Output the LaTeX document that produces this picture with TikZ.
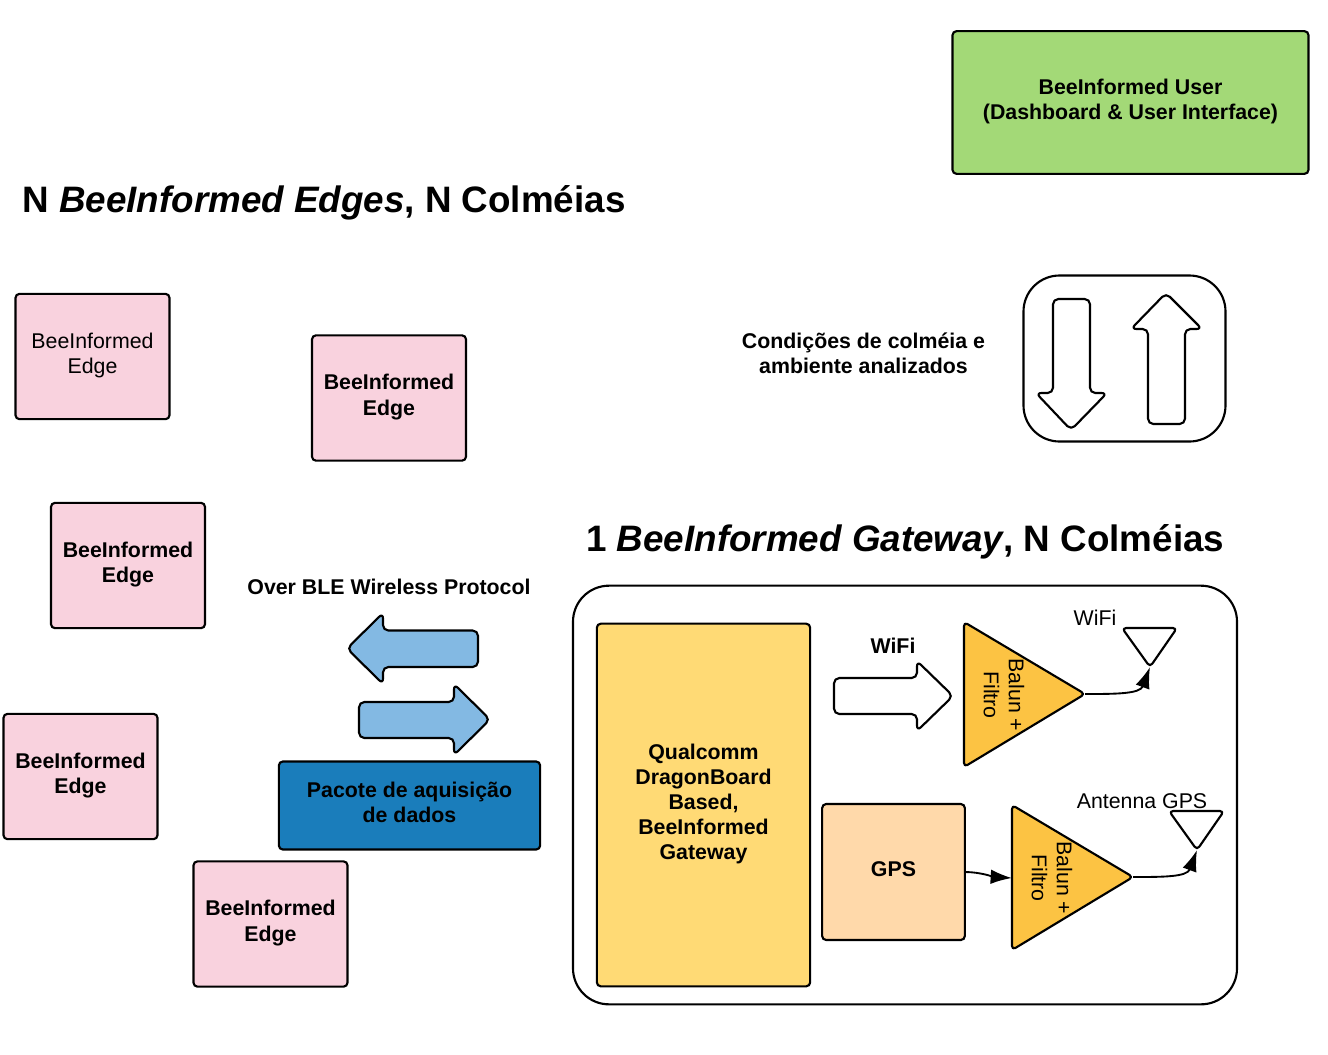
\documentclass[tikz,border=0pt]{standalone}
\usepackage{fontspec}
\setmainfont{Liberation Sans}
\definecolor{pinkbox}{HTML}{F9D2DE}
\definecolor{greenbox}{HTML}{A3D977}
\definecolor{yellowbox}{HTML}{FFDA75}
\definecolor{peachbox}{HTML}{FFD9AA}
\definecolor{ambertri}{HTML}{FCC343}
\definecolor{darkblue}{HTML}{1A7DBB}
\definecolor{lightblue}{HTML}{83B9E3}
\usetikzlibrary{arrows.meta}
\tikzset{
  x=0.75pt,y=-0.75pt,
  every node/.style={font=\fontsize{16}{18.8}\selectfont,align=center,text=black,inner sep=0pt},
  box/.style={draw=black,line width=1.6pt,rounded corners=3pt},
  shapeline/.style={draw=black,line width=1.6pt,rounded corners=3pt,line join=round},
  bold/.style={font=\fontsize{16}{18.8}\selectfont\bfseries},
  titletext/.style={font=\fontsize{27.6}{32}\selectfont\bfseries,anchor=west},
  conn/.style={draw=black,line width=1.4pt,-{Latex[length=16pt,width=11pt]}},
  frame/.style={draw=black,line width=1.6pt,rounded corners=27pt},
}
\newcommand{\edgebox}[4]{\node[box,fill=pinkbox,minimum width=115.5pt,minimum height=94pt,text depth=4.9pt,#4] (#1) at (#2,#3) {BeeInformed\\Edge};}
\begin{document}
\begin{tikzpicture}
\useasboundingbox (0,0) rectangle (1328,1054);
% user
\node[box,bold,fill=greenbox,minimum width=267pt,minimum height=107pt,text depth=4.9pt] (user) at (1130.5,102.5) {BeeInformed User\\(Dashboard \& User Interface)};
% titles
\node[titletext] (t1) at (22,203.2) {N \textit{BeeInformed Edges}, N Colméias};
\node[titletext] (t2) at (586,542.2) {1 \textit{BeeInformed Gateway}, N Colméias};
% edges
\edgebox{e1}{92.5}{356.5}{}
\edgebox{e2}{389}{398}{bold}
\edgebox{e3}{128}{565.5}{bold}
\edgebox{e4}{80.5}{776.5}{bold}
\edgebox{e5}{270.5}{924}{bold}
% condition panel
\node[bold] (cond) at (863.5,353.2) {Condições de colméia e\\ambiente analizados};
\node[frame,minimum width=151.5pt,minimum height=124.5pt] (panel) at (1124.5,358.5) {};
\draw[shapeline,rounded corners=4pt] (1053,299) -- (1090,299) -- (1090,393) -- (1107,393) -- (1071,430) -- (1036,393) -- (1053,393) -- cycle;
\draw[shapeline,rounded corners=4pt] (1148,424) -- (1185,424) -- (1185,329) -- (1202,329) -- (1166,293) -- (1131,329) -- (1148,329) -- cycle;
% BLE
\node[bold] (ble) at (389,587) {Over BLE Wireless Protocol};
\draw[shapeline,fill=lightblue,rounded corners=4pt] (478,630.5) -- (383,630.5) -- (383,613) -- (347,648.5) -- (383,684) -- (383,667) -- (478,667) -- cycle;
\draw[shapeline,fill=lightblue,rounded corners=4pt] (359,702) -- (454,702) -- (454,684) -- (490,719.5) -- (454,755) -- (454,738) -- (359,738) -- cycle;
\node[box,bold,fill=darkblue,minimum width=196pt,minimum height=66pt,text depth=5pt] (pacote) at (409.5,805.5) {Pacote de aquisição\\de dados};
% gateway
\node[frame,minimum width=498pt,minimum height=314pt] (gw) at (905,795) {};
\node[box,bold,fill=yellowbox,minimum width=160pt,minimum height=272pt,text depth=4.5pt] (qc) at (703.5,805) {Qualcomm\\DragonBoard\\Based,\\BeeInformed\\Gateway};
\node[box,bold,fill=peachbox,minimum width=107pt,minimum height=102pt,text depth=4.5pt] (gps) at (893.5,872) {GPS};
\node[bold] (wifib) at (893,645.5) {WiFi};
\draw[shapeline,fill=white,rounded corners=4pt] (834,678) -- (917,678) -- (917,661) -- (953,696) -- (917,731) -- (917,714) -- (834,714) -- cycle;
% amplifiers
\coordinate (tipA) at (1085,694);
\coordinate (tipB) at (1133,877);
\coordinate (outG) at (965,872);
\coordinate (inB) at (1012,878);
\draw[shapeline,fill=ambertri] (964,622) -- (tipA) -- (964,767) -- cycle;
\draw[shapeline,fill=ambertri] (1012,805) -- (tipB) -- (1012,950) -- cycle;
\node[rotate=-90] (bal1) at (1004,695) {Balun +\\Filtro};
\node[rotate=-90] (bal2) at (1052,878) {Balun +\\Filtro};
% antennas
\coordinate (antA) at (1150,667);
\coordinate (antB) at (1197,850);
\draw[shapeline,fill=white] (1122,628) -- (1177,628) -- (antA) -- cycle;
\draw[shapeline,fill=white] (1169,811) -- (1224,811) -- (antB) -- cycle;
\node (lwifi) at (1095,618) {WiFi};
\node (lgps) at (1142,801) {Antenna GPS};
% connectors
\draw[conn] (tipA) .. controls (1115,694) and (1140,694) .. (antA);
\draw[conn] (tipB) .. controls (1163,877) and (1187,877) .. (antB);
\draw[conn] (outG) .. controls (980,872) and (995,877) .. (inB);
\end{tikzpicture}
\end{document}
